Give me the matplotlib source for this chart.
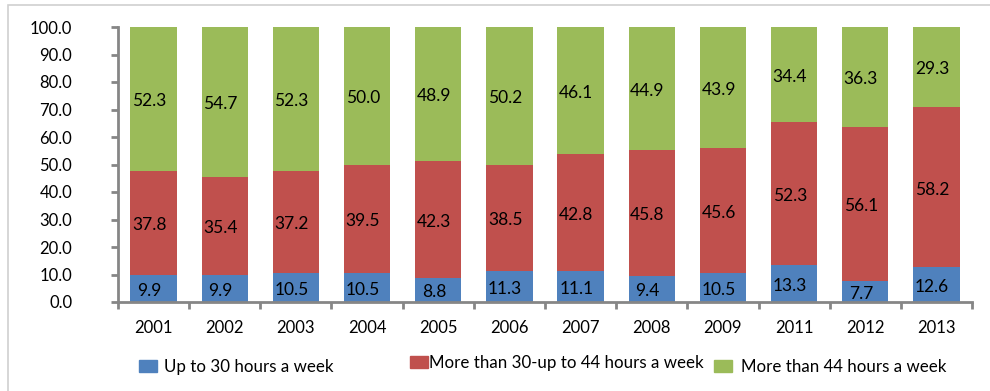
import numpy as np
import matplotlib.pyplot as plt
from matplotlib.patches import Rectangle, Patch

plt.rcParams['font.family'] = ['Lato', 'DejaVu Sans']

years = ['2001', '2002', '2003', '2004', '2005', '2006',
         '2007', '2008', '2009', '2011', '2012', '2013']
up_to_30 = [9.9, 9.9, 10.5, 10.5, 8.8, 11.3, 11.1, 9.4, 10.5, 13.3, 7.7, 12.6]
from_30_to_44 = [37.8, 35.4, 37.2, 39.5, 42.3, 38.5, 42.8, 45.8, 45.6, 52.3, 56.1, 58.2]
over_44 = [52.3, 54.7, 52.3, 50.0, 48.9, 50.2, 46.1, 44.9, 43.9, 34.4, 36.3, 29.3]

series_names = ['Up to 30 hours a week',
                'More than 30-up to 44 hours a week',
                'More than 44 hours a week']
colors = ['#4F81BD', '#C0504D', '#9BBB59']

fig = plt.figure(figsize=(9.9, 3.91), dpi=100)
ax = fig.add_axes([118 / 990, 1 - 302 / 391, (972 - 118) / 990, 275 / 391])

# light frame around the chart area
fig.patches.append(Rectangle((8 / 990, -0.1), 1.2, 1 - 5 / 391 + 0.1,
                             transform=fig.transFigure, fill=False,
                             edgecolor='#D0D0D0', linewidth=1.2))

x = np.arange(len(years))
width = 0.65
bottom = np.zeros(len(years))
bars = []
for vals, col in zip([up_to_30, from_30_to_44, over_44], colors):
    vals = np.array(vals)
    b = ax.bar(x, vals, width, bottom=bottom, color=col, edgecolor='none')
    bars.append(b)
    for xi, v, b0 in zip(x, vals, bottom):
        ax.text(xi - 0.06, b0 + v / 2 - 0.8, f'{v:.1f}', ha='center', va='center',
                fontsize=12.5, color='black')
    bottom = bottom + vals

ax.set_xlim(-0.5, len(years) - 0.5)
ax.set_ylim(0, 100)
ax.set_yticks(np.arange(0, 101, 10))
ax.set_yticklabels([f'{t:.1f}' for t in np.arange(0, 101, 10)], fontsize=12)
ax.set_xticks(x)
ax.set_xticklabels(years, fontsize=12)
ax.set_xticks(np.arange(-0.5, len(years)), minor=True)
ax.tick_params(axis='x', which='major', length=0, pad=13)
ax.tick_params(axis='x', which='minor', length=5, width=2, color='#868686')
ax.tick_params(axis='y', length=5, width=2, color='#868686', pad=28)

for side in ['top', 'right']:
    ax.spines[side].set_visible(False)
for side in ['left', 'bottom']:
    ax.spines[side].set_color('#868686')
    ax.spines[side].set_linewidth(2)

# legend entries are laid out separately along the bottom
legend_pos = [(139 / 990, 24 / 391), (410 / 990, 28 / 391), (714 / 990, 24 / 391)]
text_pads = [0.45, 0.1, 0.55]
for name, col, pos, tp in zip(series_names, colors, legend_pos, text_pads):
    fig.legend(handles=[Patch(color=col, label=name)], loc='center left',
               bbox_to_anchor=pos, frameon=False, fontsize=12.2,
               handlelength=1.05, handleheight=0.65, handletextpad=tp,
               borderaxespad=0, borderpad=0)

fig.savefig('out.png', dpi=100)
